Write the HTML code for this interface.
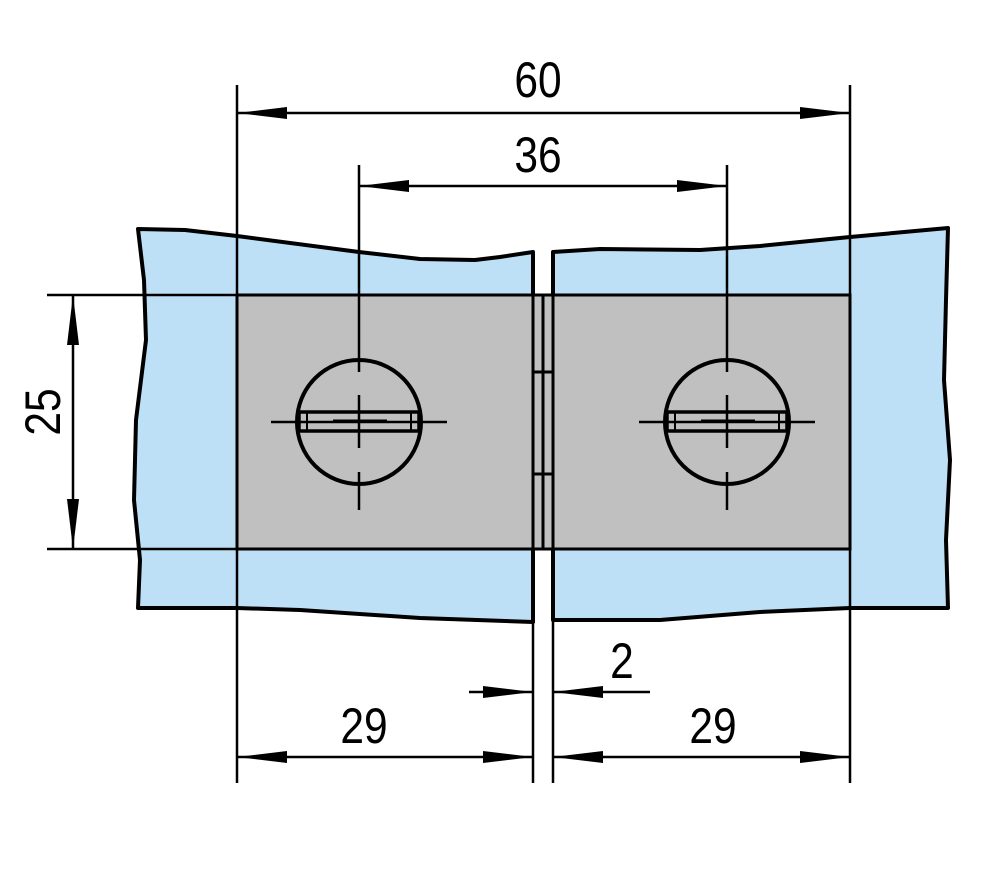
<!DOCTYPE html>
<html><head><style>html,body{margin:0;padding:0;background:#fff}svg{display:block}</style></head><body>
<svg width="988" height="887" viewBox="0 0 988 887" xmlns="http://www.w3.org/2000/svg">
<defs>
<marker id="a" viewBox="0 0 50 16" refX="50" refY="8" markerWidth="50" markerHeight="16" markerUnits="userSpaceOnUse" orient="auto-start-reverse"><path d="M0,2 L50,8 L0,14 Z" fill="#000"/></marker>
</defs>
<g stroke="#000" stroke-width="4" fill="#bde0f7" stroke-linejoin="round">
<path d="M138,229 L185,230 L237,236 L359,252 L420,259 L475,260 L500,257 L533,252 L533,622 L420,618 L300,610 L237,608 L138,608 L140,560 L134,500 L136,420 L146,340 L144,280 Z"/>
<path d="M553,252 L600,249 L700,250 L760,246 L850,237 L948,228 L946,300 L944,380 L950,460 L946,540 L948,608 L850,608 L760,612 L660,620 L553,620 Z"/>
</g>
<rect x="237" y="295" width="613" height="254" fill="#c0c0c0" stroke="#000" stroke-width="3"/>
<g stroke="#000" stroke-width="3" fill="none">
<line x1="533" y1="295" x2="533" y2="549"/><line x1="543" y1="295" x2="543" y2="549"/><line x1="553" y1="295" x2="553" y2="549"/>
<line x1="533" y1="372" x2="553" y2="372"/><line x1="533" y1="474" x2="553" y2="474"/>
<line x1="533" y1="549" x2="533" y2="783" stroke-width="2.5"/><line x1="553" y1="549" x2="553" y2="783" stroke-width="2.5"/>
<line x1="533" y1="258" x2="533" y2="295"/><line x1="553" y1="252" x2="553" y2="295"/>
</g>
<g id="s" stroke="#000" fill="none">
<circle cx="359" cy="422" r="62" stroke-width="4"/>
<rect x="299" y="412" width="120" height="19" stroke-width="3.5"/>
<line x1="307" y1="412" x2="307" y2="431" stroke-width="2"/><line x1="411" y1="412" x2="411" y2="431" stroke-width="2"/>
<line x1="271" y1="422" x2="447" y2="422" stroke-width="2.5"/>
<line x1="333" y1="421" x2="387" y2="421" stroke-width="3"/>
<line x1="359" y1="165" x2="359" y2="372" stroke-width="2.5"/>
<line x1="359" y1="395" x2="359" y2="448" stroke-width="2.5"/>
<line x1="359" y1="472" x2="359" y2="510" stroke-width="2.5"/>
</g>
<use href="#s" x="368"/>
<g stroke="#000" stroke-width="2.5" fill="none">
<line x1="237" y1="85" x2="237" y2="783"/><line x1="850" y1="85" x2="850" y2="783"/>
<line x1="237" y1="113" x2="850" y2="113" marker-start="url(#a)" marker-end="url(#a)"/>
<line x1="359" y1="186" x2="727" y2="186" marker-start="url(#a)" marker-end="url(#a)"/>
<line x1="47" y1="295" x2="237" y2="295"/><line x1="47" y1="549" x2="237" y2="549"/>
<line x1="73" y1="295" x2="73" y2="549" marker-start="url(#a)" marker-end="url(#a)"/>
<line x1="237" y1="757" x2="533" y2="757" marker-start="url(#a)" marker-end="url(#a)"/>
<line x1="553" y1="757" x2="850" y2="757" marker-start="url(#a)" marker-end="url(#a)"/>
<line x1="469" y1="692" x2="533" y2="692" marker-end="url(#a)"/>
<line x1="650" y1="692" x2="553" y2="692" marker-end="url(#a)"/>
</g>
<g font-family="Liberation Sans, sans-serif" font-size="50" fill="#000" text-anchor="middle">
<text x="538" y="97" transform="translate(538 0) scale(0.85 1) translate(-538 0)">60</text>
<text x="538" y="172" transform="translate(538 0) scale(0.85 1) translate(-538 0)">36</text>
<text x="364" y="743" transform="translate(364 0) scale(0.85 1) translate(-364 0)">29</text>
<text x="713" y="743" transform="translate(713 0) scale(0.85 1) translate(-713 0)">29</text>
<text x="622" y="678" transform="translate(622 0) scale(0.85 1) translate(-622 0)">2</text>
<text x="0" y="0" transform="translate(60 412) rotate(-90) scale(0.85 1)">25</text>
</g>
</svg>
</body></html>
